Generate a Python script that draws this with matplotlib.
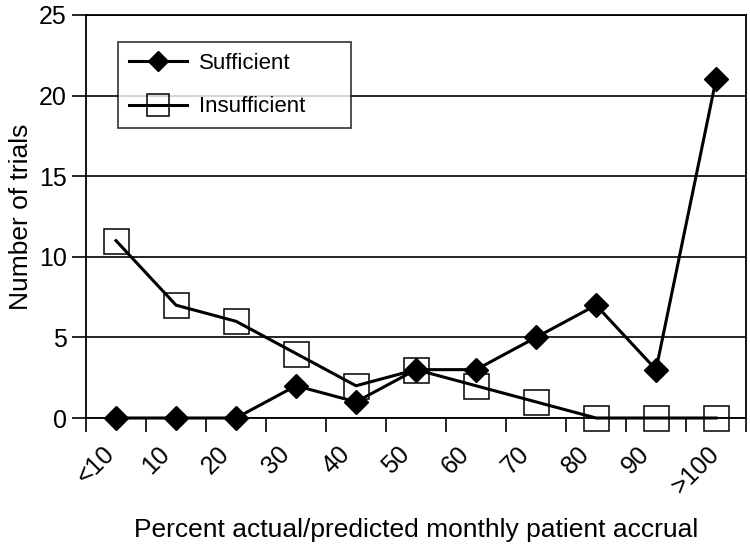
import matplotlib.pyplot as plt
import matplotlib.transforms as mtransforms

plt.rcParams['font.family'] = ['Liberation Sans', 'DejaVu Sans']

categories = ['<10', '10', '20', '30', '40', '50', '60', '70', '80', '90', '>100']
sufficient = [0, 0, 0, 2, 1, 3, 3, 5, 7, 3, 21]
insufficient = [11, 7, 6, 4, 2, 3, 2, 1, 0, 0, 0]

fig = plt.figure(figsize=(7.5, 5.49), dpi=100)
ax = fig.add_axes([0.1147, 0.2386, 0.88, 0.7341])

xs = list(range(len(categories)))
ax.plot(xs, sufficient, color='black', lw=2.2, marker='D', markersize=12,
        markerfacecolor='black', markeredgecolor='black', label='Sufficient',
        zorder=3, clip_on=False)
ax.plot(xs, insufficient, color='black', lw=2.2, marker='s', markersize=18,
        markerfacecolor='none', markeredgecolor='black', markeredgewidth=1.1,
        label='Insufficient', zorder=3, clip_on=False)

ax.set_xlim(-0.5, len(categories) - 0.5)
ax.set_ylim(0, 25)
ax.set_yticks([0, 5, 10, 15, 20, 25])
ax.yaxis.grid(True, color='black', lw=1.2)
ax.set_axisbelow(True)

# ticks sit on the category boundaries, labels at category centres
ax.set_xticks([i - 0.5 for i in range(len(categories) + 1)])
ax.set_xticklabels([])
ax.set_xticks(xs, minor=True)
ax.set_xticklabels(categories, minor=True, rotation=45, ha='center', va='top',
                   fontsize=18)
ax.tick_params(axis='x', which='minor', length=0, pad=17)
ax.tick_params(axis='x', which='major', direction='out', length=10, width=1.2)
ax.tick_params(axis='y', direction='out', length=10, width=1.2, labelsize=18, pad=4)

# rotated labels sit a little left of the category centre (after tick_params, which resets transforms)
shift = mtransforms.ScaledTranslation(-20 / 100, 0, fig.dpi_scale_trans)
for lbl in ax.get_xticklabels(minor=True):
    lbl.set_transform(lbl.get_transform() + shift)

for s in ax.spines.values():
    s.set_linewidth(1.3)

ax.set_ylabel('Number of trials', fontsize=19, labelpad=4)
ax.set_xlabel('Percent actual/predicted monthly patient accrual', fontsize=19, labelpad=14)

# legend box is wider than its content, as in the original
leg = ax.legend(loc='upper left', bbox_to_anchor=(0.0485, 0.933, 0.353, 0), mode='expand',
                borderaxespad=0, fontsize=16, frameon=True, fancybox=False,
                edgecolor='black', handlelength=2.6, labelspacing=1.0, borderpad=0.5,
                handletextpad=0.55)
leg.get_frame().set_linewidth(1.2)
for h in leg.legend_handles:
    h.set_markersize(h.get_markersize() * 0.85)

fig.savefig('out.png', dpi=100)
